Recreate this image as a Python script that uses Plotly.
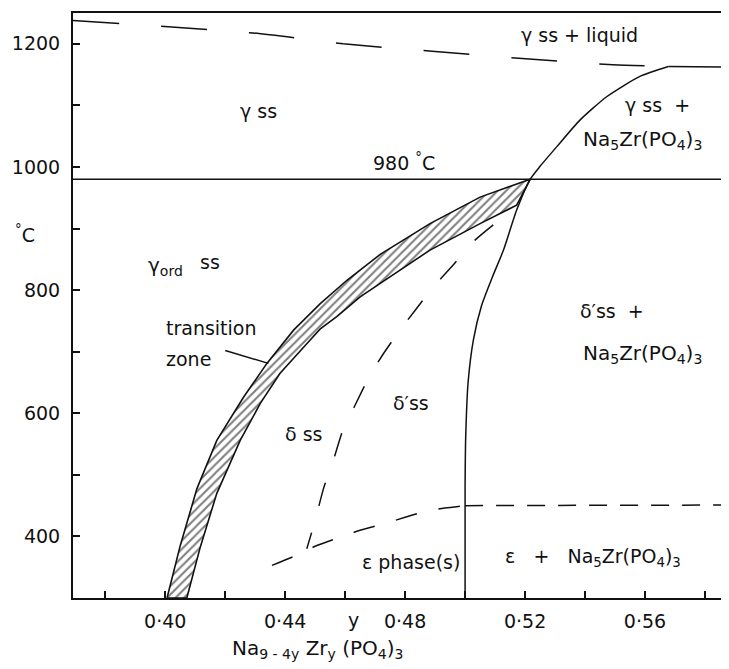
import plotly.graph_objects as go

# ---------------- data ----------------
x_tick_vals = [0.38, 0.40, 0.42, 0.44, 0.46, 0.48, 0.50, 0.52, 0.54, 0.56, 0.58]
x_tick_text = ["", "0·40", "", "0·44", "", "0·48", "", "0·52", "", "0·56", ""]
y_tick_vals = [400, 500, 600, 700, 800, 900, 1000, 1100, 1200]
y_tick_text = ["400", "", "600", "", "800", "", "1000", "", "1200"]

# liquidus (dashed) and solid upper horizontal
liq_x = [0.3692, 0.4293, 0.4593, 0.489, 0.519, 0.5493, 0.5678]
liq_T = [1238, 1217.5, 1200, 1188, 1176, 1166, 1163]
top_x = [0.5678, 0.5880]
top_T = [1163, 1162]

# solubility limit of Na5Zr(PO4)3 (solid curve)
rc_x = [0.5678, 0.5583, 0.5472, 0.5383, 0.5306, 0.5250, 0.5217, 0.5172,
        0.5128, 0.5090, 0.5055, 0.5028, 0.5010, 0.5002, 0.5000, 0.5000]
rc_T = [1163, 1147, 1114, 1076, 1033, 1001, 980, 930,
        865, 820, 775, 720, 650, 560, 480, 300]

# 980 °C isotherm
iso_x = [0.3692, 0.5880]
iso_T = [980, 980]

# transition zone (hatched band)
outer_x = [0.4006, 0.4050, 0.4106, 0.4172, 0.4261, 0.4339, 0.4428, 0.4517,
           0.4606, 0.4717, 0.4883, 0.5050, 0.5217]
outer_T = [300, 385, 478, 556, 626, 681, 735, 778,
           816, 858, 908, 951, 980]
inner_x = [0.5172, 0.5050, 0.4883, 0.4717, 0.4650, 0.4572, 0.4517, 0.4472,
           0.4383, 0.4317, 0.4250, 0.4172, 0.4117, 0.4072]
inner_T = [938, 908, 865, 811, 789, 757, 737, 713,
           665, 616, 556, 470, 383, 300]

# delta / delta' boundary (dashed)
dd_x = [0.5094, 0.5028, 0.4961, 0.4894, 0.4833, 0.4778, 0.4728, 0.4683,
        0.4633, 0.4594, 0.4561, 0.4528, 0.4500, 0.4472]
dd_T = [906, 879, 841, 805, 767, 732, 697, 662,
        613, 575, 524, 478, 426, 380]

# epsilon boundary (dashed)
eps_x = [0.4356, 0.4426, 0.4500, 0.4561, 0.4650, 0.4717, 0.4800, 0.4861, 0.4933, 0.5000]
eps_T = [353, 367, 384, 395, 410, 419, 431, 440, 446, 450]
epsh_x = [0.5000, 0.5880]
epsh_T = [450, 451]

# pointer of the "transition zone" label
ptr_x = [0.4200, 0.4344]
ptr_T = [702, 681]

# ---------------- figure ----------------
FONT = "DejaVu Sans"
BLACK = "#111111"
FS = 19
fig = go.Figure()

def line(x, y, dash="solid", width=1.5, spline=True):
    fig.add_trace(go.Scatter(x=x, y=y, mode="lines", showlegend=False,
                             hoverinfo="skip",
                             line=dict(color=BLACK, width=width, dash=dash,
                                       shape="spline" if spline else "linear",
                                       smoothing=0.6)))

# hatched band
band_x = outer_x + inner_x + [outer_x[0]]
band_T = outer_T + inner_T + [outer_T[0]]
fig.add_trace(go.Scatter(x=band_x, y=band_T, mode="lines", fill="toself",
                         showlegend=False, hoverinfo="skip",
                         fillcolor="white",
                         fillpattern=dict(shape="/", fgcolor="black", bgcolor="white",
                                          size=6, solidity=0.35),
                         line=dict(color=BLACK, width=1.6)))

line(liq_x, liq_T, dash="46px,42px")
line(top_x, top_T)
line(rc_x, rc_T)
line(iso_x, iso_T, spline=False)
line(dd_x, dd_T, dash="24px,28px")
line(eps_x, eps_T, dash="22px,22px")
line(epsh_x, epsh_T, dash="18px,13px", spline=False)
line(ptr_x, ptr_T, spline=False)

def txt(x, y, s, size=FS, xanchor="center", yref="y"):
    fig.add_annotation(x=x, y=y, xref="x", yref=yref, text=s, showarrow=False,
                       xanchor=xanchor, yanchor="middle",
                       font=dict(family=FONT, size=size, color=BLACK))

txt(0.538, 1215, "γ ss + liquid")
txt(0.431, 1091, "γ ss")
txt(0.4797, 1008, "980 <sup>°</sup>C")
txt(0.5643, 1100, "γ ss  +")
txt(0.5592, 1044, "Na<sub>5</sub>Zr(PO<sub>4</sub>)<sub>3</sub>", size=20)
txt(0.4002, 839, "γ<sub>ord</sub>", size=20)
txt(0.4150, 846, "ss")
txt(0.3995, 738, "transition", xanchor="left")
txt(0.3995, 688, "zone", xanchor="left")
txt(0.446, 567, "δ ss")
txt(0.482, 616, "δ′ss")
txt(0.5489, 766, "δ′ss  +")
txt(0.5592, 697, "Na<sub>5</sub>Zr(PO<sub>4</sub>)<sub>3</sub>", size=20)
txt(0.4818, 358, "ε phase(s)")
txt(0.5428, 366, "ε   +   Na<sub>5</sub>Zr(PO<sub>4</sub>)<sub>3</sub>")
# below the plot area (paper coordinates in y)
txt(0.4627, -0.038, "y", yref="paper")
txt(0.4507, -0.088, "Na<sub>9 - 4y</sub> Zr<sub>y</sub> (PO<sub>4</sub>)<sub>3</sub>",
    size=20, yref="paper")
fig.add_annotation(x=-0.073, y=891, xref="paper", yref="y", text="<sup>°</sup>C",
                   showarrow=False, xanchor="center", yanchor="middle",
                   font=dict(family=FONT, size=FS, color=BLACK))

# the page body adds an 8 px offset; size/margins compensate for it
fig.update_layout(
    width=721, height=661,
    margin=dict(l=65, r=0, t=5, b=71),
    paper_bgcolor="white", plot_bgcolor="white",
    font=dict(family=FONT, size=FS, color=BLACK),
    xaxis=dict(range=[0.36924, 0.58801], tickmode="array",
               tickvals=x_tick_vals, ticktext=x_tick_text,
               ticks="inside", ticklen=7, tickwidth=1.5, tickcolor=BLACK,
               showline=True, linewidth=2, linecolor=BLACK, mirror=True,
               showgrid=False, zeroline=False, ticklabelstandoff=5),
    yaxis=dict(range=[300, 1250], tickmode="array",
               tickvals=y_tick_vals, ticktext=y_tick_text,
               ticks="inside", ticklen=7, tickwidth=1.5, tickcolor=BLACK,
               showline=True, linewidth=2, linecolor=BLACK,
               showgrid=False, zeroline=False, ticklabelstandoff=7),
)

fig.write_html("out.html")
